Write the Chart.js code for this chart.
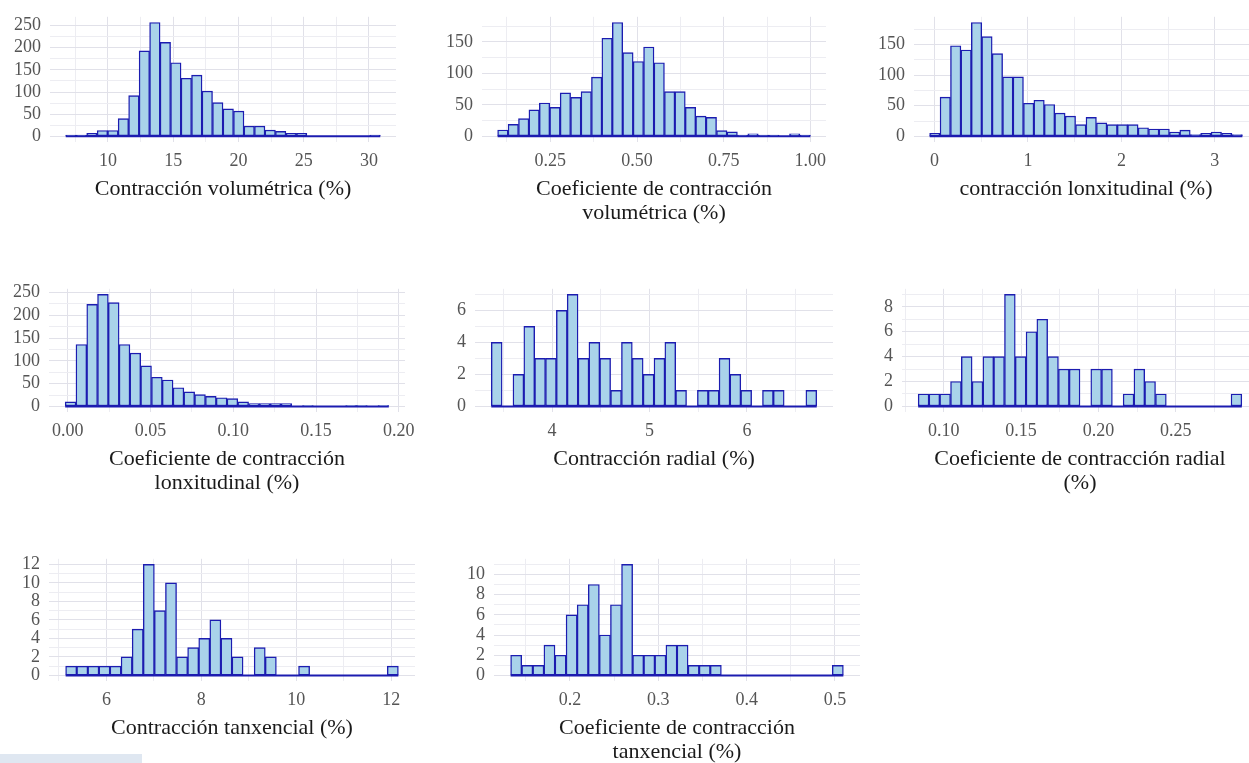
<!DOCTYPE html>
<html>
<head>
<meta charset="utf-8">
<script src="https://cdn.jsdelivr.net/npm/chart.js@4.4.1/dist/chart.umd.min.js"></script>
<style>
  body { margin: 0; background: #fff; width: 1249px; height: 763px; overflow: hidden; position: relative; }
  canvas { position: absolute; }
  .smudge { position: absolute; left: 0; top: 754px; width: 142px; height: 9px; background: #dfe7f1; }
</style>
</head>
<body>
<div class="smudge"></div>
<script>
// --- data: 30-bin histograms, counts ---
const volCounts = [3, 3, 7, 13, 13, 40, 92, 193, 257, 212, 166, 131, 138, 102, 76, 62, 57, 23, 23, 14, 11, 7, 7, 0, 0, 0, 0, 0, 0, 3];
const volBins = [6.77, 30.87];
const volXTicks = [10, 15, 20, 25, 30];
const volXLabels = ['10', '15', '20', '25', '30'];

const volCoefCounts = [10, 19, 28, 42, 53, 46, 69, 62, 71, 94, 156, 181, 133, 119, 142, 117, 71, 71, 46, 32, 30, 9, 7, 2, 4, 2, 2, 0, 4, 2];
const volCoefBins = [0.098, 1.0];
const volCoefXTicks = [0.25, 0.5, 0.75, 1.0];
const volCoefXLabels = ['0.25', '0.50', '0.75', '1.00'];

const lonCounts = [5, 64, 148, 141, 186, 163, 135, 97, 97, 54, 59, 52, 38, 33, 19, 31, 22, 19, 19, 19, 14, 12, 12, 7, 10, 3, 5, 7, 5, 3];
const lonBins = [-0.053, 3.295];
const lonXTicks = [0, 1, 2, 3];
const lonXLabels = ['0', '1', '2', '3'];

const lonCoefCounts = [10, 136, 224, 246, 228, 136, 117, 89, 64, 58, 41, 32, 26, 22, 19, 17, 10, 6, 6, 6, 6, 0, 2, 0, 0, 0, 2, 2, 0, 2];
const lonCoefBins = [-0.0016, 0.194];
const lonCoefXTicks = [0, 0.05, 0.1, 0.15, 0.2];
const lonCoefXLabels = ['0.00', '0.05', '0.10', '0.15', '0.20'];

const radCounts = [4, 0, 2, 5, 3, 3, 6, 7, 3, 4, 3, 1, 4, 3, 2, 3, 4, 1, 0, 1, 1, 3, 2, 1, 0, 1, 1, 0, 0, 1];
const radBins = [3.376, 6.716];
const radXTicks = [4, 5, 6];
const radXLabels = ['4', '5', '6'];

const radCoefCounts = [1, 1, 1, 2, 4, 2, 4, 4, 9, 4, 6, 7, 4, 3, 3, 0, 3, 3, 0, 1, 3, 2, 1, 0, 0, 0, 0, 0, 0, 1];
const radCoefBins = [0.0834, 0.2928];
const radCoefXTicks = [0.1, 0.15, 0.2, 0.25];
const radCoefXLabels = ['0.10', '0.15', '0.20', '0.25'];

const tanCounts = [1, 1, 1, 1, 1, 2, 5, 12, 7, 10, 2, 3, 4, 6, 4, 2, 0, 3, 2, 0, 0, 1, 0, 0, 0, 0, 0, 0, 0, 1];
const tanBins = [5.141, 12.152];
const tanXTicks = [6, 8, 10, 12];
const tanXLabels = ['6', '8', '10', '12'];

const tanCoefCounts = [2, 1, 1, 3, 2, 6, 7, 9, 4, 7, 11, 2, 2, 2, 3, 3, 1, 1, 1, 0, 0, 0, 0, 0, 0, 0, 0, 0, 0, 1];
const tanCoefBins = [0.1328, 0.5095];
const tanCoefXTicks = [0.2, 0.3, 0.4, 0.5];
const tanCoefXLabels = ['0.2', '0.3', '0.4', '0.5'];

const bigYTicks = [0, 50, 100, 150, 200, 250];
const midYTicks = [0, 50, 100, 150];
const radYTicks = [0, 2, 4, 6];
const radCoefYTicks = [0, 2, 4, 6, 8];
const tanYTicks = [0, 2, 4, 6, 8, 10, 12];
const tanCoefYTicks = [0, 2, 4, 6, 8, 10];

// --- layout (plot area left, top, width, height in page px) ---
const Y_W = 45, PAD_T = 12, PAD_R = 30, TITLE_GAP = 47, LINE_H = 24;
const FONT = '"Liberation Serif", "Times New Roman", serif';
const FILL = '#a9d3ea', EDGE = '#1c1cb0';

const panels = [
  { counts: volCounts, bins: volBins, xt: volXTicks, xl: volXLabels, xStep: 2.5, yt: bigYTicks, yStep: 25,
    title: ['Contracción volumétrica (%)'], box: [50.3, 9, 346.3, 132.7] },
  { counts: volCoefCounts, bins: volCoefBins, xt: volCoefXTicks, xl: volCoefXLabels, xStep: 0.125, yt: midYTicks, yStep: 25,
    title: ['Coeficiente de contracción', 'volumétrica (%)'], box: [481.7, 9, 343.9, 132.7] },
  { counts: lonCounts, bins: lonBins, xt: lonXTicks, xl: lonXLabels, xStep: 0.5, yt: midYTicks, yStep: 25,
    title: ['contracción lonxitudinal (%)'], box: [913.7, 9, 344.3, 132.7] },
  { counts: lonCoefCounts, bins: lonCoefBins, xt: lonCoefXTicks, xl: lonCoefXLabels, xStep: 0.025, yt: bigYTicks, yStep: 25,
    title: ['Coeficiente de contracción', 'lonxitudinal (%)'], box: [49.4, 281, 356.2, 130.6] },
  { counts: radCounts, bins: radBins, xt: radXTicks, xl: radXLabels, xStep: 0.5, yt: radYTicks, yStep: 1,
    title: ['Contracción radial (%)'], box: [474.7, 281, 357.5, 130.6] },
  { counts: radCoefCounts, bins: radCoefBins, xt: radCoefXTicks, xl: radCoefXLabels, xStep: 0.025, yt: radCoefYTicks, yStep: 1,
    title: ['Coeficiente de contracción radial', '(%)'], box: [901.5, 281, 355.5, 130.6] },
  { counts: tanCounts, bins: tanBins, xt: tanXTicks, xl: tanXLabels, xStep: 1, yt: tanYTicks, yStep: 1,
    title: ['Contracción tanxencial (%)'], box: [49.3, 551, 365.5, 130] },
  { counts: tanCoefCounts, bins: tanCoefBins, xt: tanCoefXTicks, xl: tanCoefXLabels, xStep: 0.05, yt: tanCoefYTicks, yStep: 1,
    title: ['Coeficiente de contracción', 'tanxencial (%)'], box: [494, 551, 365.6, 130] }
];

Chart.defaults.font.family = FONT;

// grid every half step (ggplot minor + major lines)
function gridTicks(min, max, step) {
  const out = [];
  for (let v = Math.ceil(min / step - 1e-9) * step; v <= max + 1e-9; v += step) out.push(+v.toFixed(6));
  return out;
}
const near = (list, v) => list.findIndex(t => Math.abs(t - v) < 1e-6);

function drawHist(p) {
  const [lo, hi] = p.bins;
  const w = (hi - lo) / p.counts.length;
  const xPad = (hi - lo) * 0.05;
  const xMin = lo - xPad, xMax = hi + xPad;
  const top = Math.max(...p.counts);
  const yMin = -0.05 * top, yMax = 1.05 * top;

  const axisH = TITLE_GAP + (p.title.length - 1) * LINE_H + LINE_H / 2;
  const W = Math.round(Y_W + p.box[2] + PAD_R), H = Math.round(PAD_T + p.box[3] + axisH);
  const cv = document.createElement('canvas');
  cv.width = W; cv.height = H;
  cv.style.left = (p.box[0] - Y_W) + 'px';
  cv.style.top = (p.box[1] - PAD_T) + 'px';
  cv.style.width = W + 'px'; cv.style.height = H + 'px';
  document.body.appendChild(cv);

  const gridCol = (list) => c => (c.tick && near(list, c.tick.value) >= 0) ? '#e1e1e9' : '#ededf2';

  new Chart(cv, {
    type: 'bar',
    data: {
      datasets: [{
        type: 'bar',
        order: 1,
        data: p.counts.map((c, i) => ({ x: lo + (i + 0.5) * w, y: c })),
        backgroundColor: FILL,
        borderColor: EDGE,
        borderWidth: 1.4,
        borderSkipped: false,
        barPercentage: 1,
        categoryPercentage: 1
      }, {
        // bottom edge of the bins (empty bins show as a flat line)
        type: 'line',
        order: 0,
        data: [{ x: lo, y: 0 }, { x: hi, y: 0 }],
        borderColor: EDGE,
        borderWidth: 2,
        pointRadius: 0
      }]
    },
    options: {
      responsive: false,
      animation: false,
      layout: { padding: { top: PAD_T, right: PAD_R, left: 0, bottom: 0 } },
      plugins: { legend: { display: false }, tooltip: { enabled: false } },
      scales: {
        x: {
          type: 'linear', min: xMin, max: xMax, offset: false,
          grid: { offset: false, drawTicks: false, color: gridCol(p.xt), lineWidth: 1 },
          border: { display: false },
          afterBuildTicks: s => { s.ticks = gridTicks(xMin, xMax, p.xStep).map(v => ({ value: v })); },
          afterFit: s => { s.height = axisH; },
          ticks: {
            autoSkip: false, maxRotation: 0, padding: 8, color: '#555',
            font: { size: 18 },
            callback: v => { const k = near(p.xt, v); return k >= 0 ? p.xl[k] : ''; }
          },
          title: {
            display: true, text: p.title, color: '#1a1a1a', padding: 0,
            font: { size: 22, lineHeight: LINE_H + 'px' }
          }
        },
        y: {
          min: yMin, max: yMax,
          grid: { drawTicks: false, color: gridCol(p.yt), lineWidth: 1 },
          border: { display: false },
          afterBuildTicks: s => { s.ticks = gridTicks(yMin, yMax, p.yStep).map(v => ({ value: v })); },
          afterFit: s => { s.width = Y_W; },
          ticks: {
            autoSkip: false, padding: 9, color: '#555',
            font: { size: 18 },
            callback: v => (near(p.yt, v) >= 0 ? String(v) : '')
          }
        }
      }
    }
  });
}

panels.forEach(drawHist);
</script>
</body>
</html>
